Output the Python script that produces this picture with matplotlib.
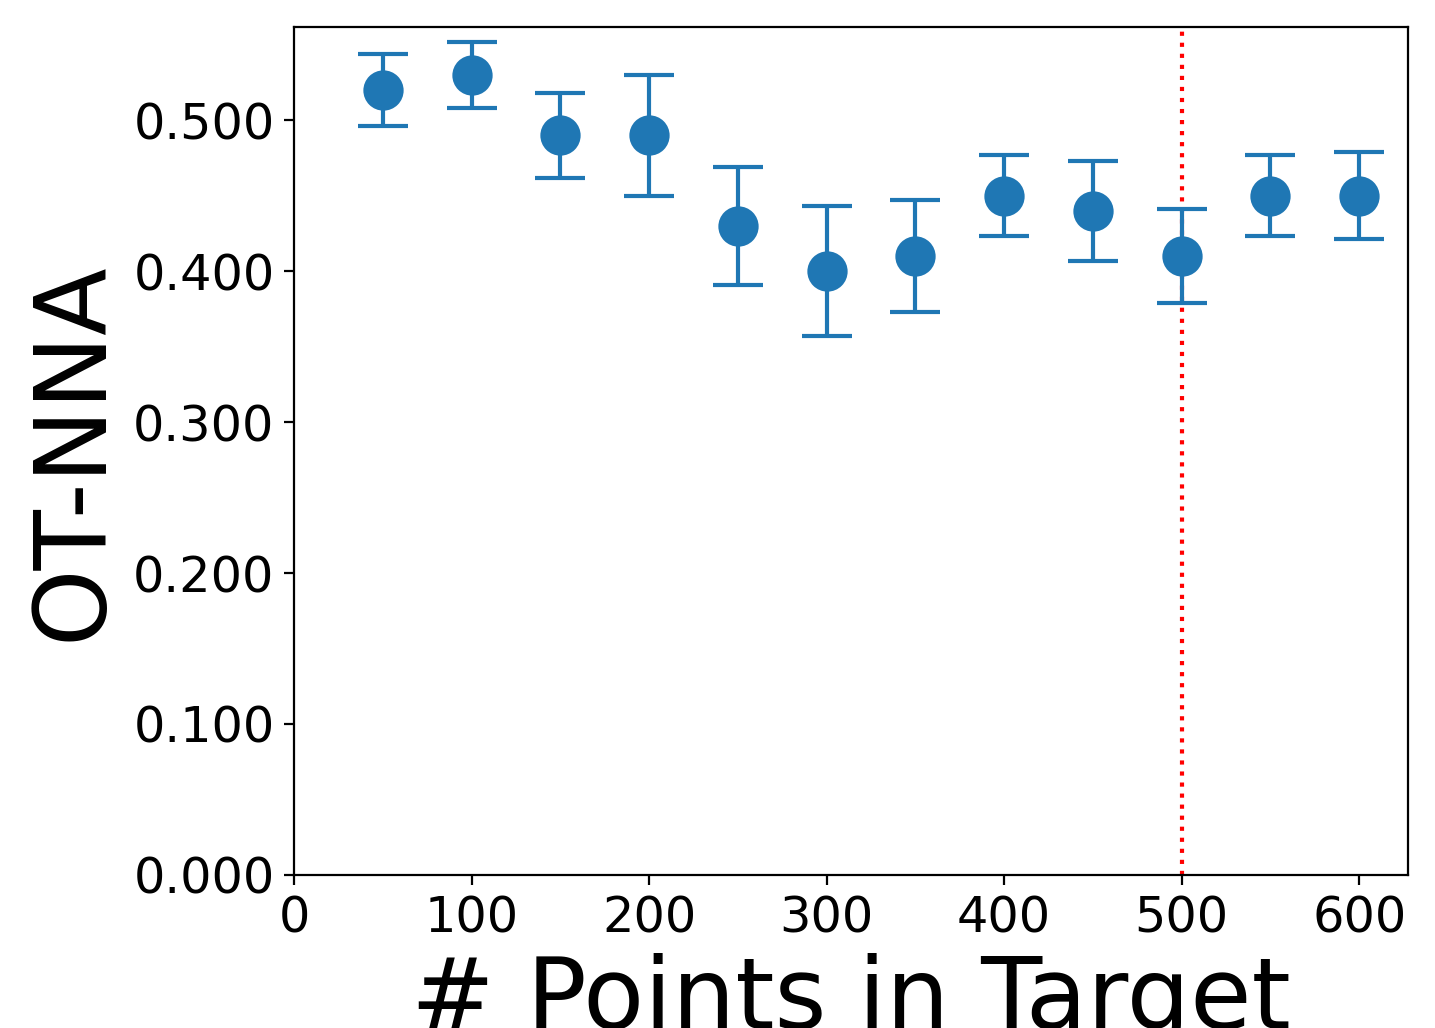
import matplotlib
matplotlib.use('Agg')
import matplotlib.pyplot as plt
from matplotlib.ticker import FormatStrFormatter

n_points = [50, 100, 150, 200, 250, 300, 350, 400, 450, 500, 550, 600]
ot_nna = [0.52, 0.53, 0.49, 0.49, 0.43, 0.40, 0.41, 0.45, 0.44, 0.41, 0.45, 0.45]
err = [0.024, 0.022, 0.028, 0.040, 0.039, 0.043, 0.037, 0.027, 0.033, 0.031, 0.027, 0.029]
marker_x = 500

fig = plt.figure(figsize=(7.175, 5.14), dpi=200)
ax = fig.add_axes([0.2049, 0.1489, 0.7763, 0.8248])
ax.axvline(marker_x, color='red', ls=':', lw=1.5)
ax.errorbar(n_points, ot_nna, yerr=err, fmt='o', color='#1f77b4',
            ms=13.5, capsize=9, capthick=1.5, elinewidth=1.5)
ax.set_xlim(left=0)
ax.set_ylim(bottom=0)
ax.yaxis.set_major_formatter(FormatStrFormatter('%.3f'))
ax.tick_params(labelsize=17.8)
ax.set_xlabel('# Points in Target', fontsize=36)
ax.set_ylabel('OT-NNA', fontsize=35.5)
fig.savefig('out.png', dpi=200)
